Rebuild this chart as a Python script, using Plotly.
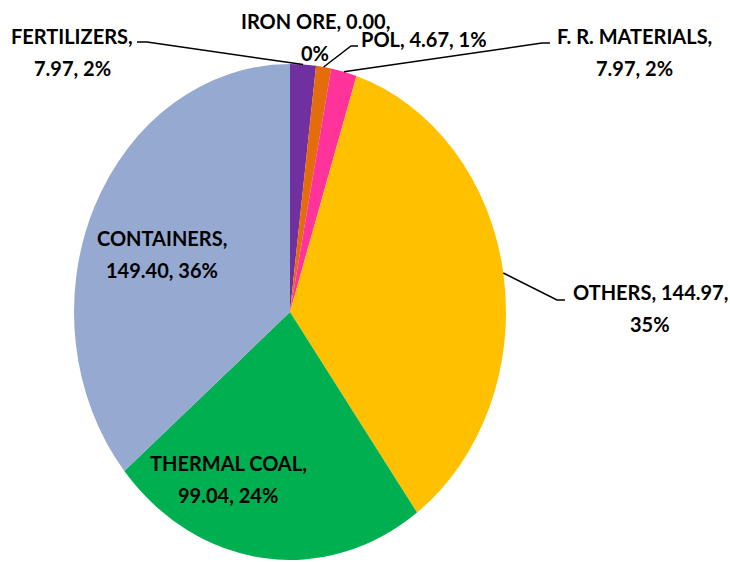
import numpy as np
import plotly.graph_objects as go

# ---- data ----
categories = ["FERTILIZERS", "IRON ORE", "POL", "F. R. MATERIALS", "OTHERS", "THERMAL COAL", "CONTAINERS"]
values = [7.97, 0.00, 4.67, 7.97, 144.97, 99.04, 149.40]
colors = ["#7030A0", "#8FAADC", "#E46C0A", "#FF3399", "#FFC000", "#00B050", "#95A9D1"]

# ---- layout constants ----
W, H = 730, 562
CX, CY = 290, 312     # pie centre in pixels
RX, RY = 216, 248     # the reference pie is drawn slightly stretched vertically
FONT = "Lato, Liberation Sans, sans-serif"
FS = 20
LINE_GAP = 32

# label layout: (centre x px, first-line centre y px, split mode)
label_pos = {
    "FERTILIZERS": (72, 36, "name"),
    "IRON ORE": (315, 21, "value"),
    "POL": (424, 39, None),
    "F. R. MATERIALS": (634, 36, "name"),
    "OTHERS": (650, 292, "value"),
    "THERMAL COAL": (228, 463, "name"),
    "CONTAINERS": (162, 238, "name"),
}
# leader line start / elbow points (pixels)
leaders = {
    "FERTILIZERS": [(137, 42), (147, 42)],
    "POL": [(358, 46), (351, 46)],
    "F. R. MATERIALS": [(550, 43), (542, 43)],
    "OTHERS": [(565, 300), (557, 300)],
}

total = sum(values)


def px2paper(x, y):
    return x / W, 1 - y / H


fig = go.Figure()
fig.add_trace(go.Pie(
    labels=categories,
    values=values,
    sort=False,
    direction="clockwise",
    rotation=0,
    textinfo="none",
    hoverinfo="label+value+percent",
    marker=dict(colors=colors, line=dict(width=0)),
    showlegend=False,
    domain=dict(x=[(CX - RX) / W, (CX + RX) / W], y=[1 - (CY + RX) / H, 1 - (CY - RX) / H]),
))

annotations = []
for cat, val in zip(categories, values):
    pct = round(val / total * 100)
    x, y, split = label_pos[cat]
    if split == "name":
        lines = [f"{cat},", f"{val:.2f}, {pct}%"]
    elif split == "value":
        lines = [f"{cat}, {val:.2f},", f"{pct}%"]
    else:
        lines = [f"{cat}, {val:.2f}, {pct}%"]
    for i, ln in enumerate(lines):
        xp, yp = px2paper(x, y + i * LINE_GAP)
        annotations.append(dict(
            x=xp, y=yp, xref="paper", yref="paper", text=f"<b>{ln}</b>",
            showarrow=False, xanchor="center", yanchor="middle",
            font=dict(family=FONT, size=FS, color="#000000"),
        ))

# leader lines: from label to the middle of the slice on the pie edge
shapes = []
cum = np.cumsum([0] + values)
for i, cat in enumerate(categories):
    if cat not in leaders:
        continue
    mid = (cum[i] + cum[i + 1]) / 2 / total * 2 * np.pi
    tx = CX + RX * np.sin(mid)
    ty = CY - RY * np.cos(mid)
    pts = leaders[cat] + [(tx, ty)]
    path = ""
    for j, (px, py) in enumerate(pts):
        xp, yp = px2paper(px, py)
        path += ("M" if j == 0 else " L") + f" {xp:.5f},{yp:.5f}"
    shapes.append(dict(type="path", path=path, xref="paper", yref="paper",
                       line=dict(color="#000000", width=1.5)))

fig.update_layout(
    width=W, height=H,
    margin=dict(l=0, r=0, t=0, b=0),
    paper_bgcolor="#FFFFFF",
    plot_bgcolor="#FFFFFF",
    annotations=annotations,
    shapes=shapes,
)

sy = RY / RX
post = """
document.body.style.margin='0';
document.body.style.overflow='hidden';
(function(){
  var gd = document.getElementById('{plot_id}');
  function stretch(){
    var layers = gd.querySelectorAll('.pielayer');
    layers.forEach(function(l){
      l.setAttribute('transform', 'translate(%(cx)s,%(cy)s) scale(1,%(sy)s) translate(-%(cx)s,-%(cy)s)');
    });
  }
  stretch();
  if (gd.on) { gd.on('plotly_afterplot', stretch); }
  setTimeout(stretch, 0);
})();
""" % {"cx": CX, "cy": CY, "sy": f"{sy:.4f}"}

fig.write_html("out.html", post_script=post, config={"displayModeBar": False})
